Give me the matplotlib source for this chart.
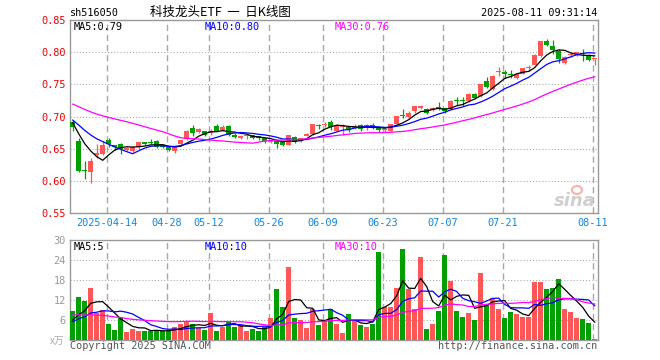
import matplotlib
matplotlib.use('Agg')
import matplotlib.pyplot as plt
import numpy as np
from matplotlib.patches import Ellipse

# ---------------- data ----------------
dates = ['04-03','04-07','04-08','04-09','04-10','04-11','04-14','04-15','04-16','04-17',
         '04-18','04-21','04-22','04-23','04-24','04-25','04-28','04-29','04-30','05-06',
         '05-07','05-08','05-09','05-12','05-13','05-14','05-15','05-16','05-19','05-20',
         '05-21','05-22','05-23','05-26','05-27','05-28','05-29','05-30','06-03','06-04',
         '06-05','06-06','06-09','06-10','06-11','06-12','06-13','06-16','06-17','06-18',
         '06-19','06-20','06-23','06-24','06-25','06-26','06-27','06-30','07-01','07-02',
         '07-03','07-04','07-07','07-08','07-09','07-10','07-11','07-14','07-15','07-16',
         '07-17','07-18','07-21','07-22','07-23','07-24','07-25','07-28','07-29','07-30',
         '07-31','08-01','08-04','08-05','08-06','08-07','08-08','08-11']

opens = [0.692,0.662,0.617,0.613,0.640,0.642,0.664,0.655,0.657,0.648,
         0.647,0.653,0.660,0.661,0.662,0.655,0.653,0.646,0.657,0.665,
         0.682,0.676,0.677,0.674,0.686,0.679,0.686,0.672,0.667,0.669,
         0.671,0.669,0.666,0.661,0.662,0.660,0.656,0.668,0.662,0.670,
         0.673,0.6865,0.687,0.692,0.678,0.683,0.684,0.682,0.687,0.683,
         0.687,0.683,0.679,0.678,0.688,0.703,0.700,0.709,0.714,0.711,
         0.710,0.714,0.714,0.712,0.725,0.726,0.724,0.735,0.732,0.755,
         0.743,0.769,0.768,0.766,0.760,0.767,0.776,0.781,0.794,0.818,
         0.810,0.802,0.783,0.796,0.798,0.799,0.796,0.789]
highs = [0.695,0.666,0.630,0.635,0.657,0.662,0.666,0.656,0.658,0.653,
         0.654,0.661,0.661,0.665,0.663,0.657,0.654,0.653,0.664,0.679,
         0.687,0.682,0.678,0.680,0.689,0.687,0.687,0.674,0.672,0.673,
         0.672,0.670,0.667,0.663,0.663,0.661,0.672,0.669,0.667,0.674,
         0.688,0.689,0.691,0.695,0.689,0.688,0.685,0.688,0.689,0.688,
         0.690,0.685,0.683,0.689,0.701,0.711,0.709,0.717,0.718,0.713,
         0.715,0.723,0.714,0.726,0.730,0.731,0.736,0.736,0.751,0.762,
         0.764,0.777,0.773,0.772,0.768,0.776,0.781,0.797,0.818,0.821,
         0.820,0.806,0.794,0.800,0.801,0.806,0.797,0.790]
lows = [0.678,0.613,0.603,0.596,0.635,0.640,0.653,0.648,0.641,0.646,
        0.645,0.649,0.655,0.657,0.651,0.651,0.646,0.643,0.655,0.664,
        0.669,0.675,0.669,0.672,0.677,0.677,0.670,0.666,0.665,0.665,
        0.665,0.663,0.659,0.659,0.651,0.654,0.655,0.659,0.660,0.669,
        0.672,0.681,0.684,0.679,0.677,0.672,0.676,0.680,0.678,0.679,
        0.681,0.676,0.676,0.677,0.687,0.697,0.697,0.706,0.711,0.704,
        0.709,0.710,0.705,0.710,0.718,0.716,0.722,0.728,0.731,0.744,
        0.742,0.763,0.760,0.760,0.759,0.766,0.771,0.780,0.793,0.810,
        0.798,0.783,0.782,0.793,0.795,0.787,0.786,0.781]
closes = [0.684,0.615,0.615,0.631,0.643,0.655,0.657,0.652,0.650,0.651,
          0.652,0.660,0.657,0.659,0.652,0.653,0.648,0.652,0.663,0.677,
          0.675,0.680,0.671,0.678,0.678,0.684,0.671,0.668,0.669,0.671,
          0.667,0.666,0.662,0.662,0.658,0.656,0.671,0.661,0.666,0.673,
          0.688,0.6855,0.689,0.684,0.686,0.685,0.679,0.686,0.680,0.687,
          0.683,0.679,0.681,0.688,0.701,0.701,0.705,0.716,0.716,0.705,
          0.714,0.713,0.708,0.725,0.724,0.724,0.735,0.729,0.750,0.746,
          0.763,0.771,0.767,0.765,0.767,0.775,0.778,0.796,0.818,0.812,
          0.803,0.790,0.793,0.798,0.800,0.797,0.788,0.790]
volumes = [8.7,13.0,11.8,15.7,8.0,9.0,4.8,3.0,6.8,2.4,
           3.4,2.7,2.8,2.8,2.8,2.7,2.8,4.0,4.8,5.7,
           4.8,3.5,3.0,8.1,2.7,4.0,5.8,4.0,4.4,2.7,
           3.3,2.7,3.8,6.7,15.3,10.0,22.0,6.7,6.0,3.7,
           9.2,4.5,5.7,9.3,4.8,2.2,7.8,6.3,4.5,3.9,
           4.8,26.3,9.8,9.8,15.6,27.3,15.3,9.3,24.9,3.3,
           4.8,8.7,25.5,17.8,8.7,6.9,8.1,6.0,20.1,10.5,
           12.6,9.3,6.6,8.4,7.8,6.9,6.9,17.5,17.5,15.3,
           15.6,18.3,9.3,8.4,6.7,6.3,5.1,0.3]

# sessions before the visible window (only used for the moving averages)
pre_closes = [0.735,0.742,0.748,0.744,0.738,0.733,0.722,0.715,0.716,0.728,
              0.735,0.741,0.737,0.730,0.729,0.745,0.752,0.746,0.705,0.695,
              0.692,0.698,0.703,0.702,0.699,0.700,0.692,0.688,0.687]
pre_volumes = [12,14,13,11,10,12,11,12,11.9,10,
               7.5,6.8,5.9,6.2,5.6,5.6,4.2,3.8,3.6,3.9,
               4.5,5.2,4.8,5.6,4.9,5.1,5.8,4.6,5.8]

tick_dates = ['04-14','04-28','05-12','05-26','06-09','06-23','07-07','07-21','08-11']
tick_labels = ['2025-04-14','04-28','05-12','05-26','06-09','06-23','07-07','07-21','08-11']
price_ticks = [0.55,0.60,0.65,0.70,0.75,0.80,0.85]
vol_ticks = [6,12,18,24,30]

# ---------------- helpers ----------------
RED = '#ff5757'
GREEN = '#00a000'
GRID = '#a8a8a8'
MONO = 'DejaVu Sans Mono'
CJK = ['Noto Sans CJK SC', 'DejaVu Sans']

def moving(full, n, npre, count):
    full = np.asarray(full, dtype=float)
    return np.array([full[npre + k - n + 1: npre + k + 1].mean() for k in range(count)])

N = len(closes)
x = np.arange(N)
fullc = pre_closes + closes
fullv = pre_volumes + volumes
P = len(pre_closes)
ma5 = moving(fullc, 5, P, N)
ma10 = moving(fullc, 10, P, N)
ma30 = moving(fullc, 30, P, N)
vma5 = moving(fullv, 5, P, N)
vma10 = moving(fullv, 10, P, N)
vma30 = moving(fullv, 30, P, N)

W, H = 660, 360
fig = plt.figure(figsize=(W / 100, H / 100), dpi=100)
fig.patch.set_facecolor('white')

def rect(x0, y0, x1, y1):
    return [x0 / W, 1 - y1 / H, (x1 - x0) / W, (y1 - y0) / H]

def fx(v):
    return v / W

def fy(v):
    return 1 - v / H

ax = fig.add_axes(rect(70, 20.3, 597.5, 212.8))
axv = fig.add_axes(rect(70, 240, 597.5, 340))

xmin = -2.7 / 6
xmax = xmin + 527.5 / 6
tick_pos = [dates.index(d) - 0.35 for d in tick_dates]

for a in (ax, axv):
    a.set_xlim(xmin, xmax)
    for s in a.spines.values():
        s.set_color('#999999')
        s.set_linewidth(1.0)
    for tp in tick_pos:
        a.axvline(tp, color=GRID, lw=1.0, ls=(0, (4.5, 2.8)), zorder=1)

# ---- price panel ----
ax.set_ylim(0.55, 0.85)
for yv in price_ticks[1:-1]:
    ax.axhline(yv, color=GRID, lw=0.75, ls=(0, (1, 2)), zorder=1)

min_h = 0.0017
for i in range(N):
    o, h, l, c = opens[i], highs[i], lows[i], closes[i]
    col = RED if c >= o else GREEN
    ax.vlines(i, l, h, color=col, lw=0.9, zorder=3)
    ax.bar(i, max(abs(c - o), min_h), bottom=min(o, c), width=0.8,
           color=col, linewidth=0, zorder=4)

ax.plot(x, ma5, color='black', lw=0.9, zorder=5)
ax.plot(x, ma10, color='#0000ff', lw=0.9, zorder=5)
ax.plot(x, ma30, color='#ff00ff', lw=0.9, zorder=5)

ax.set_yticks(price_ticks)
ax.set_yticklabels(['%.2f' % t for t in price_ticks], family=MONO, fontsize=7.4, color='#ee0000')
ax.set_xticks(tick_pos)
ax.set_xticklabels(tick_labels, family=MONO, fontsize=7.4, color='#1188dd')
ax.tick_params(axis='both', length=0)
ax.tick_params(axis='y', pad=3)
ax.tick_params(axis='x', pad=4)

ax.text(fx(74), fy(27.5), 'MA5:%.2f' % ma5[-1], transform=fig.transFigure, family=MONO,
        fontsize=7.4, color='black', va='center', ha='left')
ax.text(fx(205), fy(27.5), 'MA10:%.2f' % ma10[-1], transform=fig.transFigure, family=MONO,
        fontsize=7.4, color='#0000ff', va='center', ha='left')
ax.text(fx(334.5), fy(27.5), 'MA30:%.2f' % ma30[-1], transform=fig.transFigure, family=MONO,
        fontsize=7.4, color='#ff00ff', va='center', ha='left')

# sina watermark
fig.text(fx(596), fy(206), 'sina', fontsize=13, fontweight='bold', style='italic',
         color='#cfcfcf', ha='right', va='baseline', family='DejaVu Sans')
fig.patches.append(Ellipse((fx(577), fy(190)), 10 / W, 8 / H, transform=fig.transFigure,
                           facecolor='none', edgecolor='#f5b5b5', lw=1.6))

# ---- volume panel ----
axv.set_ylim(0, 30)
for yv in vol_ticks[:-1]:
    axv.axhline(yv, color=GRID, lw=0.75, ls=(0, (1, 2)), zorder=1)
vcols = [RED if closes[i] >= opens[i] else GREEN for i in range(N)]
axv.bar(x, volumes, width=0.83, color=vcols, linewidth=0, zorder=3)
axv.plot(x, vma5, color='black', lw=0.9, zorder=5)
axv.plot(x, vma10, color='#0000ff', lw=0.9, zorder=5)
axv.plot(x, vma30, color='#ff00ff', lw=0.9, zorder=5)
axv.set_yticks(vol_ticks)
axv.set_yticklabels([str(t) for t in vol_ticks], family=MONO, fontsize=7.4, color='#999999')
axv.set_xticks([])
axv.tick_params(axis='both', length=0)
axv.tick_params(axis='y', pad=3)

axv.text(fx(74), fy(246.5), 'MA5:%d' % int(vma5[-1]), transform=fig.transFigure, family=MONO,
         fontsize=7.4, color='black', va='center', ha='left')
axv.text(fx(205), fy(246.5), 'MA10:%d' % int(vma10[-1]), transform=fig.transFigure, family=MONO,
         fontsize=7.4, color='#0000ff', va='center', ha='left')
axv.text(fx(334.5), fy(246.5), 'MA30:%d' % int(vma30[-1]), transform=fig.transFigure, family=MONO,
         fontsize=7.4, color='#ff00ff', va='center', ha='left')

fig.text(fx(64), fy(341), 'x万', family=CJK, fontsize=7, color='#aaaaaa', ha='right', va='center')

# ---- header / footer ----
fig.text(fx(70), fy(12.5), 'sh516050', family=MONO, fontsize=7.3, color='black', ha='left', va='center')
fig.text(fx(150.5), fy(12.5), '科技龙头ETF  一  日K线图', family=CJK, fontsize=9, color='black',
         ha='left', va='center')
fig.text(fx(597), fy(12.5), '2025-08-11 09:31:14', family=MONO, fontsize=7.3, color='black',
         ha='right', va='center')
fig.text(fx(70), fy(346), 'Copyright 2025 SINA.COM', family=MONO, fontsize=7.3, color='#555555',
         ha='left', va='center')
fig.text(fx(597), fy(346), 'http://finance.sina.com.cn', family=MONO, fontsize=7.3, color='#555555',
         ha='right', va='center')

fig.savefig('out.png', dpi=100, facecolor='white')
